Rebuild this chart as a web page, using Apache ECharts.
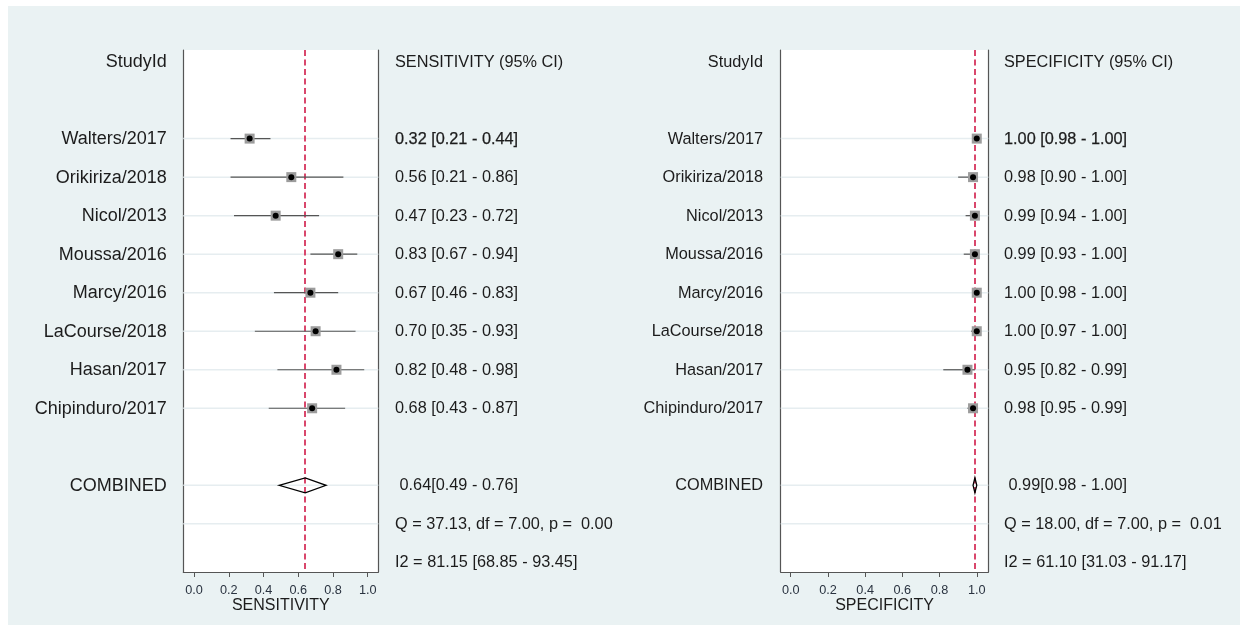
<!DOCTYPE html>
<html><head><meta charset="utf-8">
<script src="https://cdn.jsdelivr.net/npm/echarts@6/dist/echarts.min.js"></script>
<style>html,body{margin:0;padding:0;background:#fff}#c{width:1244px;height:628px}</style>
</head><body><div id="c"></div>
<script>
// ---- data ----
const studies = ['Walters/2017','Orikiriza/2018','Nicol/2013','Moussa/2016','Marcy/2016','LaCourse/2018','Hasan/2017','Chipinduro/2017'];
const sensEst = [0.32,0.56,0.47,0.83,0.67,0.70,0.82,0.68];
const sensLo  = [0.21,0.21,0.23,0.67,0.46,0.35,0.48,0.43];
const sensHi  = [0.44,0.86,0.72,0.94,0.83,0.93,0.98,0.87];
const specEst = [1.00,0.98,0.99,0.99,1.00,1.00,0.95,0.98];
const specLo  = [0.98,0.90,0.94,0.93,0.98,0.97,0.82,0.95];
const specHi  = [1.00,1.00,1.00,1.00,1.00,1.00,0.99,0.99];
const sensComb = [0.64,0.49,0.76];   // est, lo, hi
const specComb = [0.99,0.98,1.00];
const sensHet = [37.13,7.00,0.00];   // Q, df, p
const specHet = [18.00,7.00,0.01];
const sensI2 = [81.15,68.85,93.45];
const specI2 = [61.10,31.03,91.17];
const xTicks = [0,0.2,0.4,0.6,0.8,1.0];
const panelTitles = ['SENSITIVITY','SPECIFICITY'];

// ---- layout helpers ----
const FONT = '"Liberation Sans", Arial, sans-serif';
const ROW_HEADER = 0, ROW_FIRST = 2, ROW_COMB = 11, ROW_Q = 12, ROW_I2 = 13;
const f2 = v => v.toFixed(2);
const studyRows = studies.map((_, i) => ROW_FIRST + i);
const gridRows = studyRows.concat([ROW_COMB, ROW_Q]);

function nameItems() {
  return [[ROW_HEADER, 'StudyId']].concat(studies.map((s, i) => [studyRows[i], s]), [[ROW_COMB, 'COMBINED']]);
}
function valueItems(title, est, lo, hi, comb, het, i2) {
  return [[ROW_HEADER, title + ' (95% CI)']]
    .concat(est.map((e, i) => [studyRows[i], f2(e) + ' [' + f2(lo[i]) + ' - ' + f2(hi[i]) + ']']))
    .concat([[ROW_COMB, ' ' + f2(comb[0]) + '[' + f2(comb[1]) + ' - ' + f2(comb[2]) + ']'],
             [ROW_Q, 'Q = ' + f2(het[0]) + ', df = ' + f2(het[1]) + ', p =  ' + f2(het[2])],
             [ROW_I2, 'I2 = ' + f2(i2[0]) + ' [' + f2(i2[1]) + ' - ' + f2(i2[2]) + ']']]);
}

function textSeries(g, items, side, offset, size, boldRow) {
  return {
    type: 'custom', xAxisIndex: g, yAxisIndex: g * 2, z: 5, silent: true,
    data: items.map((it, i) => [0, it[0], i]), encode: {x: 0, y: 1},
    renderItem(params, api) {
      const cs = params.coordSys;
      const row = api.value(1);
      const y = api.coord([0, row])[1] + 0.5;
      const it = items[api.value(2)];
      const x = side === 'left' ? cs.x - offset : cs.x + cs.width + offset;
      const st = {text: it[1], x: x, y: y, fill: '#1c1c1c', fontSize: size, fontFamily: FONT,
        align: side === 'left' ? 'right' : 'left', verticalAlign: 'middle'};
      if (row === boldRow) { st.stroke = '#1c1c1c'; st.lineWidth = 0.25; }
      return {type: 'text', style: st};
    }
  };
}
function gridLineSeries(g) {
  return {
    type: 'custom', xAxisIndex: g, yAxisIndex: g * 2, z: 1, silent: true,
    data: gridRows.map(r => [0, r]), encode: {x: 0, y: 1},
    renderItem(params, api) {
      const cs = params.coordSys;
      const y = api.coord([0, api.value(1)])[1];
      return {type: 'line', shape: {x1: cs.x, y1: y, x2: cs.x + cs.width, y2: y}, style: {stroke: '#e6edf0', lineWidth: 1.5}};
    }
  };
}
function markerSeries(g, est, lo, hi) {
  return {
    type: 'custom', xAxisIndex: g, yAxisIndex: g * 2, z: 4, silent: true,
    data: est.map((e, i) => [e, studyRows[i], lo[i], hi[i]]), encode: {x: 0, y: 1},
    renderItem(params, api) {
      const r = api.value(1);
      const p = api.coord([api.value(0), r]);
      const a = api.coord([api.value(2), r]);
      const b = api.coord([api.value(3), r]);
      return {type: 'group', children: [
        {type: 'line', shape: {x1: a[0], y1: a[1], x2: b[0], y2: b[1]}, style: {stroke: '#555', lineWidth: 1.2}},
        {type: 'rect', shape: {x: p[0] - 5, y: p[1] - 5, width: 10, height: 10}, style: {fill: '#9c9c9c'}},
        {type: 'circle', shape: {cx: p[0], cy: p[1], r: 3}, style: {fill: '#000'}}
      ]};
    }
  };
}
function diamondSeries(g, comb) {
  return {
    type: 'custom', xAxisIndex: g, yAxisIndex: g * 2, z: 4, silent: true,
    data: [[comb[0], ROW_COMB, comb[1], comb[2]]], encode: {x: 0, y: 1},
    renderItem(params, api) {
      const r = api.value(1);
      const p = api.coord([api.value(0), r]);
      const a = api.coord([api.value(2), r]);
      const b = api.coord([api.value(3), r]);
      return {type: 'polygon', shape: {points: [[a[0], p[1]], [p[0], p[1] - 7.5], [b[0], p[1]], [p[0], p[1] + 7.5]]},
        style: {fill: 'none', stroke: '#000', lineWidth: 1.3}};
    }
  };
}
function refSeries(g, comb) {
  return {
    type: 'scatter', xAxisIndex: g, yAxisIndex: g * 2, z: 2, silent: true, symbolSize: 0,
    data: [[comb[0], ROW_COMB]],
    markLine: {silent: true, symbol: 'none', label: {show: false}, animation: false, z: 2,
      lineStyle: {color: '#d9476c', type: [6, 3.5], width: 2}, data: [{xAxis: comb[0]}]}
  };
}

const grids = [
  {left: 183.3, top: 50, width: 195, height: 522},
  {left: 780.7, top: 50, width: 207.6, height: 522}
];
const xMin = [-0.062, -0.054], xMax = [1.061, 1.062];
const yMin = -0.30, yMax = 13.25;

const yAxes = [];
[0, 1].forEach(g => ['left', 'right'].forEach(pos => yAxes.push({
  gridIndex: g, type: 'value', min: yMin, max: yMax, inverse: true, position: pos,
  axisLine: {show: true, onZero: false, lineStyle: {color: '#555', width: 1.2}},
  axisTick: {show: false}, axisLabel: {show: false}, splitLine: {show: false}
})));

const option = {
  animation: false,
  backgroundColor: '#fff',
  graphic: [{type: 'rect', left: 8, top: 6, shape: {width: 1232, height: 619}, style: {fill: '#eaf2f3'}, z: -10, silent: true}],
  grid: grids.map(g => Object.assign({show: true, backgroundColor: '#fff', borderWidth: 0}, g)),
  xAxis: [0, 1].map(g => ({
    gridIndex: g, type: 'value', min: xMin[g], max: xMax[g],
    axisLine: {show: true, onZero: false, lineStyle: {color: '#555', width: 1.2}},
    axisTick: {show: true, customValues: xTicks, length: 5, lineStyle: {color: '#555'}},
    axisLabel: {show: true, customValues: xTicks, formatter: v => Number(v).toFixed(1), fontSize: 12.7, color: '#2a3340', margin: 12, fontFamily: FONT},
    splitLine: {show: false},
    name: panelTitles[g], nameLocation: 'middle', nameGap: 26, nameMoveOverlap: false,
    nameTextStyle: {fontSize: 16, color: '#1c1c1c', fontFamily: FONT}
  })),
  yAxis: yAxes,
  series: [
    gridLineSeries(0), gridLineSeries(1),
    refSeries(0, sensComb), refSeries(1, specComb),
    markerSeries(0, sensEst, sensLo, sensHi), markerSeries(1, specEst, specLo, specHi),
    diamondSeries(0, sensComb), diamondSeries(1, specComb),
    textSeries(0, nameItems(), 'left', 16.5, 18, -1),
    textSeries(0, valueItems('SENSITIVITY', sensEst, sensLo, sensHi, sensComb, sensHet, sensI2), 'right', 16.7, 16.3, ROW_FIRST),
    textSeries(1, nameItems(), 'left', 17.7, 16.3, -1),
    textSeries(1, valueItems('SPECIFICITY', specEst, specLo, specHi, specComb, specHet, specI2), 'right', 15.7, 16.3, ROW_FIRST)
  ]
};
const chart = echarts.init(document.getElementById('c'));
chart.setOption(option);
</script>
</body></html>
